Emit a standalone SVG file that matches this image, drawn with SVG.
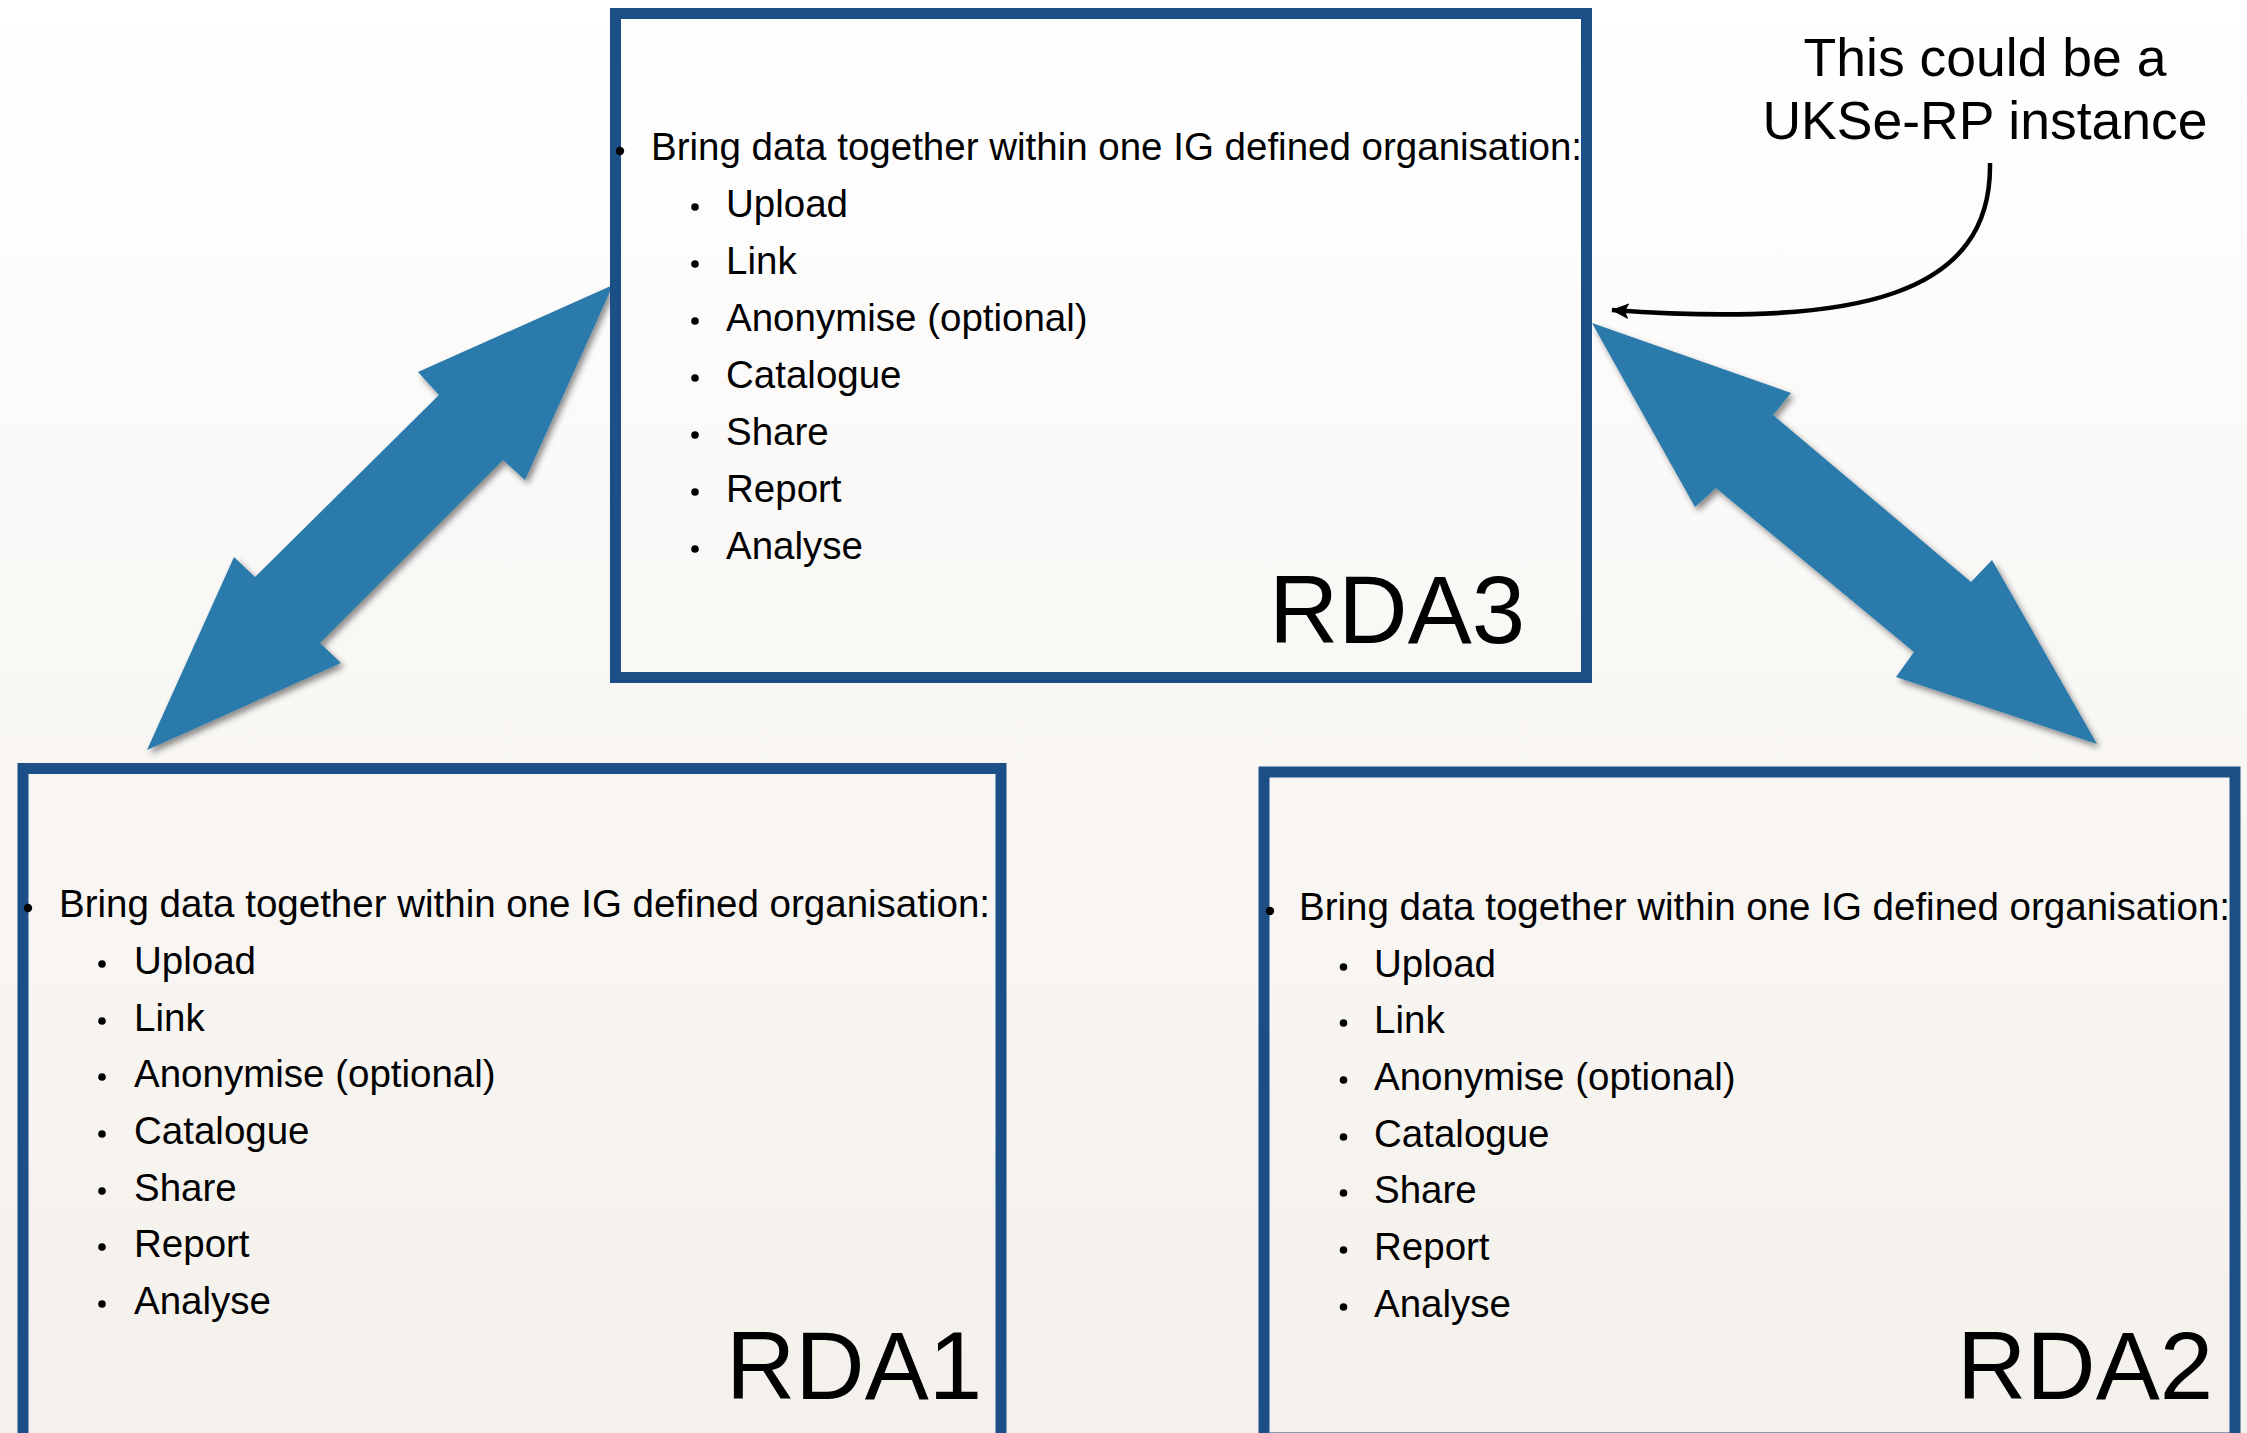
<svg xmlns="http://www.w3.org/2000/svg" width="2247" height="1433" viewBox="0 0 2247 1433">
  <defs>
    <linearGradient id="bg" x1="0" y1="0" x2="0" y2="1">
      <stop offset="0" stop-color="#ffffff"/>
      <stop offset="0.15" stop-color="#fdfdfd"/>
      <stop offset="0.35" stop-color="#fbf9f7"/>
      <stop offset="1" stop-color="#f4f1ec"/>
    </linearGradient>
    <filter id="shadow" x="-10%" y="-10%" width="130%" height="130%">
      <feDropShadow dx="3" dy="4" stdDeviation="3" flood-color="#000" flood-opacity="0.45"/>
    </filter>
    <marker id="head" markerUnits="userSpaceOnUse" markerWidth="20" markerHeight="18" refX="17" refY="8" orient="auto">
      <path d="M0,0 L18,8 L0,16 L4,8 Z" fill="#000"/>
    </marker>
    <style>
      .box { fill: none; stroke: #1b4f86; stroke-width: 11; }
      .t { font-family: "Liberation Sans", Arial, sans-serif; fill: #000; }
      .body { font-size: 38.5px; }
      .lbl { font-size: 96px; }
      .note { font-size: 53.5px; text-anchor: middle; }
      .dot { fill: #000; }
      .big { fill: #2a7aab; filter: url(#shadow); }
    </style>
  </defs>

  <rect x="0" y="0" width="2247" height="1433" fill="url(#bg)"/>

  <g id="connectors">
    <polygon class="big" points="613,285 418,372 439,395 255,577 234,557 147,750 341,663 320,643 503,460 525,480"/>
    <polygon class="big" points="1592,323 1791,393 1773,415 1971,582 1992,560 2097,744 1896,677 1914,652 1716,488 1695,507"/>
    <path d="M1990,163 C1992,295 1860,328 1612,310" fill="none" stroke="#000" stroke-width="4.5" marker-end="url(#head)"/>
  </g>

  <g id="rda3">
    <rect class="box" x="615.5" y="13.5" width="971" height="664"/>
    <circle class="dot" cx="620" cy="151" r="4.2"/>
    <text class="t body" x="651" y="160">Bring data together within one IG defined organisation:</text>
    <g class="dots">
      <circle class="dot" cx="695" cy="207" r="3.8"/>
      <circle class="dot" cx="695" cy="264" r="3.8"/>
      <circle class="dot" cx="695" cy="321" r="3.8"/>
      <circle class="dot" cx="695" cy="378" r="3.8"/>
      <circle class="dot" cx="695" cy="435" r="3.8"/>
      <circle class="dot" cx="695" cy="492" r="3.8"/>
      <circle class="dot" cx="695" cy="549" r="3.8"/>
    </g>
    <text class="t body" x="726" y="217">Upload</text>
    <text class="t body" x="726" y="274">Link</text>
    <text class="t body" x="726" y="331">Anonymise (optional)</text>
    <text class="t body" x="726" y="388">Catalogue</text>
    <text class="t body" x="726" y="445">Share</text>
    <text class="t body" x="726" y="502">Report</text>
    <text class="t body" x="726" y="559">Analyse</text>
    <text class="t lbl" x="1269" y="643">RDA3</text>
  </g>

  <g id="rda1">
    <rect class="box" x="23" y="768.5" width="978" height="670"/>
    <circle class="dot" cx="28" cy="908" r="4.2"/>
    <text class="t body" x="59" y="917">Bring data together within one IG defined organisation:</text>
    <circle class="dot" cx="102" cy="964" r="3.8"/>
    <circle class="dot" cx="102" cy="1021" r="3.8"/>
    <circle class="dot" cx="102" cy="1077" r="3.8"/>
    <circle class="dot" cx="102" cy="1134" r="3.8"/>
    <circle class="dot" cx="102" cy="1191" r="3.8"/>
    <circle class="dot" cx="102" cy="1247" r="3.8"/>
    <circle class="dot" cx="102" cy="1304" r="3.8"/>
    <text class="t body" x="134" y="974">Upload</text>
    <text class="t body" x="134" y="1031">Link</text>
    <text class="t body" x="134" y="1087">Anonymise (optional)</text>
    <text class="t body" x="134" y="1144">Catalogue</text>
    <text class="t body" x="134" y="1201">Share</text>
    <text class="t body" x="134" y="1257">Report</text>
    <text class="t body" x="134" y="1314">Analyse</text>
    <text class="t lbl" x="726" y="1399">RDA1</text>
  </g>

  <g id="rda2">
    <rect class="box" x="1264" y="772" width="971" height="666"/>
    <circle class="dot" cx="1270" cy="911" r="4.2"/>
    <text class="t body" x="1299" y="920">Bring data together within one IG defined organisation:</text>
    <circle class="dot" cx="1343.5" cy="967" r="3.8"/>
    <circle class="dot" cx="1343.5" cy="1023" r="3.8"/>
    <circle class="dot" cx="1343.5" cy="1080" r="3.8"/>
    <circle class="dot" cx="1343.5" cy="1137" r="3.8"/>
    <circle class="dot" cx="1343.5" cy="1193" r="3.8"/>
    <circle class="dot" cx="1343.5" cy="1250" r="3.8"/>
    <circle class="dot" cx="1343.5" cy="1307" r="3.8"/>
    <text class="t body" x="1374" y="977">Upload</text>
    <text class="t body" x="1374" y="1033">Link</text>
    <text class="t body" x="1374" y="1090">Anonymise (optional)</text>
    <text class="t body" x="1374" y="1147">Catalogue</text>
    <text class="t body" x="1374" y="1203">Share</text>
    <text class="t body" x="1374" y="1260">Report</text>
    <text class="t body" x="1374" y="1317">Analyse</text>
    <text class="t lbl" x="1957" y="1399">RDA2</text>
  </g>

  <g id="note">
    <text class="t note" x="1985" y="76">This could be a</text>
    <text class="t note" x="1985" y="139">UKSe-RP instance</text>
  </g>
</svg>
